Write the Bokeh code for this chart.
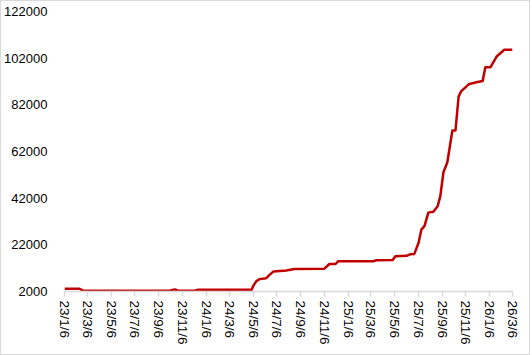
from datetime import datetime
from bokeh.plotting import figure
from bokeh.models import Range1d, FixedTicker, NumeralTickFormatter
from bokeh.embed import file_html
from bokeh.resources import INLINE

tick_labels = ["23/1/6", "23/3/6", "23/5/6", "23/7/6", "23/9/6", "23/11/6",
               "24/1/6", "24/3/6", "24/5/6", "24/7/6", "24/9/6", "24/11/6",
               "25/1/6", "25/3/6", "25/5/6", "25/7/6", "25/9/6", "25/11/6",
               "26/1/6", "26/3/6"]
y_ticks = [2000, 22000, 42000, 62000, 82000, 102000, 122000]

dates = ["2023-01-06", "2023-02-13", "2023-02-24", "2023-10-04", "2023-10-17",
         "2023-10-27", "2023-12-07", "2023-12-15", "2024-05-02", "2024-05-07",
         "2024-05-15", "2024-05-23", "2024-06-09", "2024-06-17", "2024-06-28",
         "2024-07-31", "2024-08-21", "2024-11-06", "2024-11-19", "2024-12-05",
         "2024-12-12", "2025-03-13", "2025-03-20", "2025-05-01", "2025-05-08",
         "2025-06-06", "2025-06-16", "2025-06-26", "2025-07-07", "2025-07-14",
         "2025-07-22", "2025-08-01", "2025-08-14", "2025-08-25", "2025-09-01",
         "2025-09-09", "2025-09-19", "2025-10-02", "2025-10-10", "2025-10-18",
         "2025-10-25", "2025-11-13", "2025-12-03", "2025-12-19", "2025-12-26",
         "2026-01-08", "2026-01-24", "2026-02-13", "2026-03-06"]
values = [3200, 3200, 2300, 2300, 2900,
          2300, 2300, 2700, 2700, 4500,
          6500, 7300, 7700, 9000, 10600,
          11000, 11600, 11800, 13800, 13800,
          15000, 15000, 15400, 15500, 17100,
          17300, 18000, 18100, 23000, 28500,
          30000, 35800, 36200, 38500, 43000,
          53100, 57400, 71000, 71000, 85500,
          87900, 90800, 91700, 92200, 98100,
          98100, 102700, 105600, 105600]


def to_ms(d):
    return (datetime.strptime(d, "%Y-%m-%d") - datetime(1970, 1, 1)).total_seconds() * 1000.0


def label_to_ms(lbl):
    yy, mm, dd = lbl.split("/")
    return to_ms("20%s-%02d-%02d" % (yy, int(mm), int(dd)))


xs = [to_ms(d) for d in dates]
tick_ms = [label_to_ms(l) for l in tick_labels]

p = figure(width=530, height=355, output_backend="svg", toolbar_location=None,
           x_range=Range1d(tick_ms[0], tick_ms[-1]), y_range=Range1d(2000, 122000),
           min_border_left=62, min_border_right=19, min_border_top=10, min_border_bottom=65)
p.styles = {"border": "1px solid #d9d9d9", "box-sizing": "border-box"}
p.outline_line_color = None
p.xgrid.visible = False
p.ygrid.visible = False

p.line(xs, values, line_color="#C00000", line_width=2.5, line_join="round")

font = "Liberation Sans"
p.xaxis.ticker = FixedTicker(ticks=tick_ms)
p.xaxis.major_label_overrides = {t: l for t, l in zip(tick_ms, tick_labels)}
p.xaxis.major_label_orientation = "vertical"
p.xaxis.axis_line_color = "#d9d9d9"
p.xaxis.axis_line_width = 1.5
p.xaxis.major_tick_line_color = "#d9d9d9"
p.xaxis.major_tick_line_width = 1.5
p.xaxis.major_tick_out = 5
p.xaxis.major_tick_in = 0
p.xaxis.minor_tick_line_color = None
p.xaxis.major_label_text_font = font
p.xaxis.major_label_text_font_size = "13.5px"
p.xaxis.major_label_text_color = "#000000"
p.xaxis.major_label_standoff = 4

p.yaxis.ticker = FixedTicker(ticks=y_ticks)
p.yaxis.formatter = NumeralTickFormatter(format="0")
p.yaxis.axis_line_color = None
p.yaxis.major_tick_line_color = None
p.yaxis.minor_tick_line_color = None
p.yaxis.major_label_text_font = font
p.yaxis.major_label_text_font_size = "13px"
p.yaxis.major_label_text_color = "#000000"
p.yaxis.major_label_standoff = 11

open("out.html", "w").write(file_html(p, INLINE))
